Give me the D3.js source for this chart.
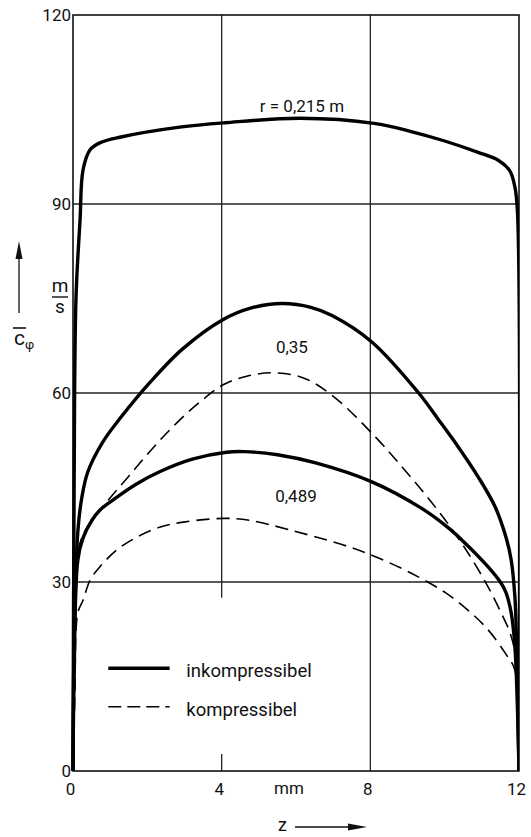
<!DOCTYPE html>
<html>
<head>
<meta charset="utf-8">
<title>Umfangsgeschwindigkeit c_phi ueber z</title>
<style>
  body { margin: 0; background: #fff; }
  svg { display: block; font-family: Roboto, "DejaVu Sans", sans-serif; }
</style>
</head>
<body>
<svg width="531" height="837"></svg>
<script src="https://d3js.org/d3.v7.min.js"></script>
<script>

// values: [z in mm, c_phi in m/s]
var zTicks = [0, 4, 8, 12];
var cTicks = [0, 30, 60, 90, 120];

var r0215Inc = [[0, 0], [0.03, 45], [0.08, 75], [0.19, 87.5], [0.27, 95.4], [0.46, 98.6], [0.72, 99.7],
    [1.26, 100.6], [2.87, 102.2], [4.1, 102.9], [6.1, 103.6], [8.1, 102.8], [9.1, 101.5], [10.0, 100.0],
    [10.9, 98.2], [11.45, 96.9], [11.75, 95.3], [11.89, 92.7], [11.96, 88.6], [12, 0]];

var r035Inc = [[0, 0], [0.03, 20], [0.13, 38], [0.24, 43.5], [0.4, 47.5], [0.8, 52.2], [1.31, 56.3],
    [2.06, 61.6], [2.95, 67.0], [4.02, 71.6], [4.8, 73.5], [5.63, 74.2], [6.4, 73.6], [6.97, 72.3],
    [8.04, 68.1], [9.3, 60], [9.83, 55.8], [10.37, 51.4], [10.9, 46.7], [11.36, 41.9], [11.65, 37.1],
    [11.79, 33.5], [11.89, 27.6], [11.93, 21.3], [12, 0]];

var r035Comp = [[0, 0], [0.03, 15], [0.11, 33.5], [0.24, 37.1], [0.51, 39.8], [0.72, 41.4], [1.5, 46.8],
    [2.2, 51.6], [2.8, 55.3], [3.4, 58.5], [4.04, 61.3], [4.7, 62.7], [5.41, 63.2], [6.2, 62.4],
    [7.02, 59.4], [8.14, 53], [8.76, 48.9], [9.38, 44.6], [10.02, 39.8], [10.63, 34.6], [11.17, 29.2],
    [11.52, 25.1], [11.76, 21.9], [11.89, 18.7], [12, 0]];

var r0489Inc = [[0, 0], [0.03, 15], [0.13, 33.5], [0.27, 37], [0.51, 39.8], [0.72, 41.4], [1.07, 43],
    [1.72, 45.6], [2.33, 47.5], [3.21, 49.5], [4.13, 50.6], [4.6, 50.7], [5.5, 50.2], [6.53, 48.9],
    [8.04, 45.9], [9.35, 41.8], [10.1, 38.6], [10.44, 36.8], [11.17, 32.4], [11.52, 29.8],
    [11.65, 28.3], [11.79, 25.1], [11.89, 19.7], [12, 0]];

var r0489Comp = [[0, 0], [0.05, 12], [0.13, 25.1], [0.27, 27.1], [0.46, 30.3], [0.72, 32.4], [1.18, 35.1],
    [1.71, 37.1], [2.33, 38.7], [2.97, 39.5], [4.05, 40.1], [4.74, 39.8], [5.81, 38.3], [7.42, 35.6],
    [8.22, 33.8], [9.1, 31.4], [10.02, 28.3], [10.71, 25.1], [11.17, 22.4], [11.63, 18.7],
    [11.89, 16], [12, 0]];

var curveLabels = [
    { text: "r = 0,215 m", z: 6.16, c: 104.6 },
    { text: "0,35", z: 5.89, c: 66.3 },
    { text: "0,489", z: 6.0, c: 42.7 }
];

var legendItems = ["inkompressibel", "kompressibel"];

var svg = d3.select("svg"),
    margin = { top: 15, right: 12, bottom: 66, left: 73 },
    width = svg.attr("width") - margin.left - margin.right,
    height = svg.attr("height") - margin.top - margin.bottom;

var x = d3.scaleLinear().domain([0, 12]).range([0, width]),
    y = d3.scaleLinear().domain([0, 120]).range([height, 0]);

var g = svg.append("g")
    .attr("transform", "translate(" + margin.left + "," + margin.top + ")");

svg.append("defs").append("clipPath").attr("id", "plot")
    .append("rect").attr("x", -2).attr("y", -2).attr("width", width + 2).attr("height", height + 2);

// grid: horizontal lines at 30/60/90, vertical at 8; the 4 mm line is broken by the legend
g.selectAll(".hgrid")
    .data(cTicks.slice(1, -1))
    .enter().append("line")
    .attr("class", "hgrid")
    .attr("x1", 0).attr("x2", width)
    .attr("y1", d => y(d)).attr("y2", d => y(d))
    .style("stroke", "#222").style("stroke-width", 1.3);

var vSegments = [[4, 27.5, 120], [4, 0, 2.7], [8, 0, 120]];
g.selectAll(".vgrid")
    .data(vSegments)
    .enter().append("line")
    .attr("class", "vgrid")
    .attr("x1", d => x(d[0])).attr("x2", d => x(d[0]))
    .attr("y1", d => y(d[1])).attr("y2", d => y(d[2]))
    .style("stroke", "#222").style("stroke-width", 1.3);

g.append("rect")
    .attr("width", width).attr("height", height)
    .style("fill", "none").style("stroke", "#111").style("stroke-width", 1.6);

// axes (labels only, the frame draws the lines)
var fontAxis = "17px";

var xAxis = g.append("g")
    .attr("transform", "translate(-3," + height + ")")
    .call(d3.axisBottom(x).tickValues(zTicks).tickSize(0).tickPadding(12));
xAxis.select(".domain").remove();
xAxis.selectAll("text").style("font-size", fontAxis).style("font-family", "Roboto").attr("fill", "#111");

var yAxis = g.append("g")
    .call(d3.axisLeft(y).tickValues(cTicks).tickSize(0).tickPadding(2));
yAxis.select(".domain").remove();
yAxis.selectAll("text").style("font-size", fontAxis).style("font-family", "Roboto").attr("fill", "#111");

g.append("text")
    .attr("x", (x(4) + x(8)) / 2 - 7)
    .attr("y", height + 23)
    .attr("text-anchor", "middle")
    .style("font-size", fontAxis).attr("fill", "#111")
    .text("mm");

// z ---> under the axis
var zLab = g.append("g").attr("transform", "translate(" + (x(6) - 18) + "," + (height + 60) + ")");
zLab.append("text").attr("x", 0).attr("y", 0).style("font-size", "18px").attr("fill", "#111").text("z");
zLab.append("line").attr("x1", 17).attr("x2", 74).attr("y1", -4).attr("y2", -4)
    .style("stroke", "#111").style("stroke-width", 1.3);
zLab.append("path").attr("d", "M70,-7.5 L89,-4 L70,-0.5 Z").style("fill", "#111");

// c_phi with overbar and up arrow, unit m/s
var cLab = svg.append("g").attr("transform", "translate(19,0)");
cLab.append("line").attr("x1", 0).attr("x2", 0).attr("y1", 313).attr("y2", 255)
    .style("stroke", "#111").style("stroke-width", 1.3);
cLab.append("path").attr("d", "M-3.5,259 L0,241 L3.5,259 Z").style("fill", "#111");
cLab.append("line").attr("x1", -6).attr("x2", 7).attr("y1", 328).attr("y2", 328)
    .style("stroke", "#111").style("stroke-width", 1.6);
cLab.append("text").attr("x", -5).attr("y", 345).style("font-size", "21px").attr("fill", "#111")
    .text("c")
    .append("tspan").attr("dy", 4).style("font-size", "13px").text("\u03c6");

var unit = svg.append("g").attr("transform", "translate(60,0)");
unit.append("text").attr("y", 292).attr("text-anchor", "middle").style("font-size", "19px").attr("fill", "#111").text("m");
unit.append("line").attr("x1", -8).attr("x2", 8).attr("y1", 297).attr("y2", 297)
    .style("stroke", "#111").style("stroke-width", 1.4);
unit.append("text").attr("y", 313).attr("text-anchor", "middle").style("font-size", "19px").attr("fill", "#111").text("s");

// curves
var line = d3.line()
    .x(d => x(d[0]))
    .y(d => y(d[1]))
    .curve(d3.curveCatmullRom.alpha(0.5));

var series = [
    { values: r0215Inc, dash: null },
    { values: r035Inc, dash: null },
    { values: r035Comp, dash: "13,7" },
    { values: r0489Inc, dash: null },
    { values: r0489Comp, dash: "13,7" }
];

g.append("g")
    .attr("clip-path", "url(#plot)")
    .selectAll(".curve")
    .data(series)
    .enter().append("path")
    .attr("class", "curve")
    .attr("d", d => line(d.values))
    .style("fill", "none")
    .style("stroke", "#000")
    .style("stroke-width", d => d.dash ? 1.6 : 3.4)
    .style("stroke-dasharray", d => d.dash)
    .style("stroke-linejoin", "round");

g.selectAll(".clabel")
    .data(curveLabels)
    .enter().append("text")
    .attr("class", "clabel")
    .attr("x", d => x(d.z))
    .attr("y", d => y(d.c))
    .attr("text-anchor", "middle")
    .style("font-size", "17px")
    .attr("fill", "#111")
    .text(d => d.text);

// legend
var legend = g.selectAll(".legend")
    .data(legendItems)
    .enter().append("g")
    .attr("class", "legend")
    .attr("transform", (d, i) => "translate(" + x(0.95) + "," + y(16.3 - i * 6.1) + ")");

legend.append("line")
    .attr("x1", 0).attr("x2", x(2.6) - x(0.95))
    .style("stroke", "#000")
    .style("stroke-width", (d, i) => i ? 1.6 : 3.4)
    .style("stroke-dasharray", (d, i) => i ? "13,6" : null);

legend.append("text")
    .attr("x", x(3.05) - x(0.95))
    .attr("y", 9)
    .style("font-size", "18.5px")
    .attr("fill", "#111")
    .text(d => d);

</script>
</body>
</html>
